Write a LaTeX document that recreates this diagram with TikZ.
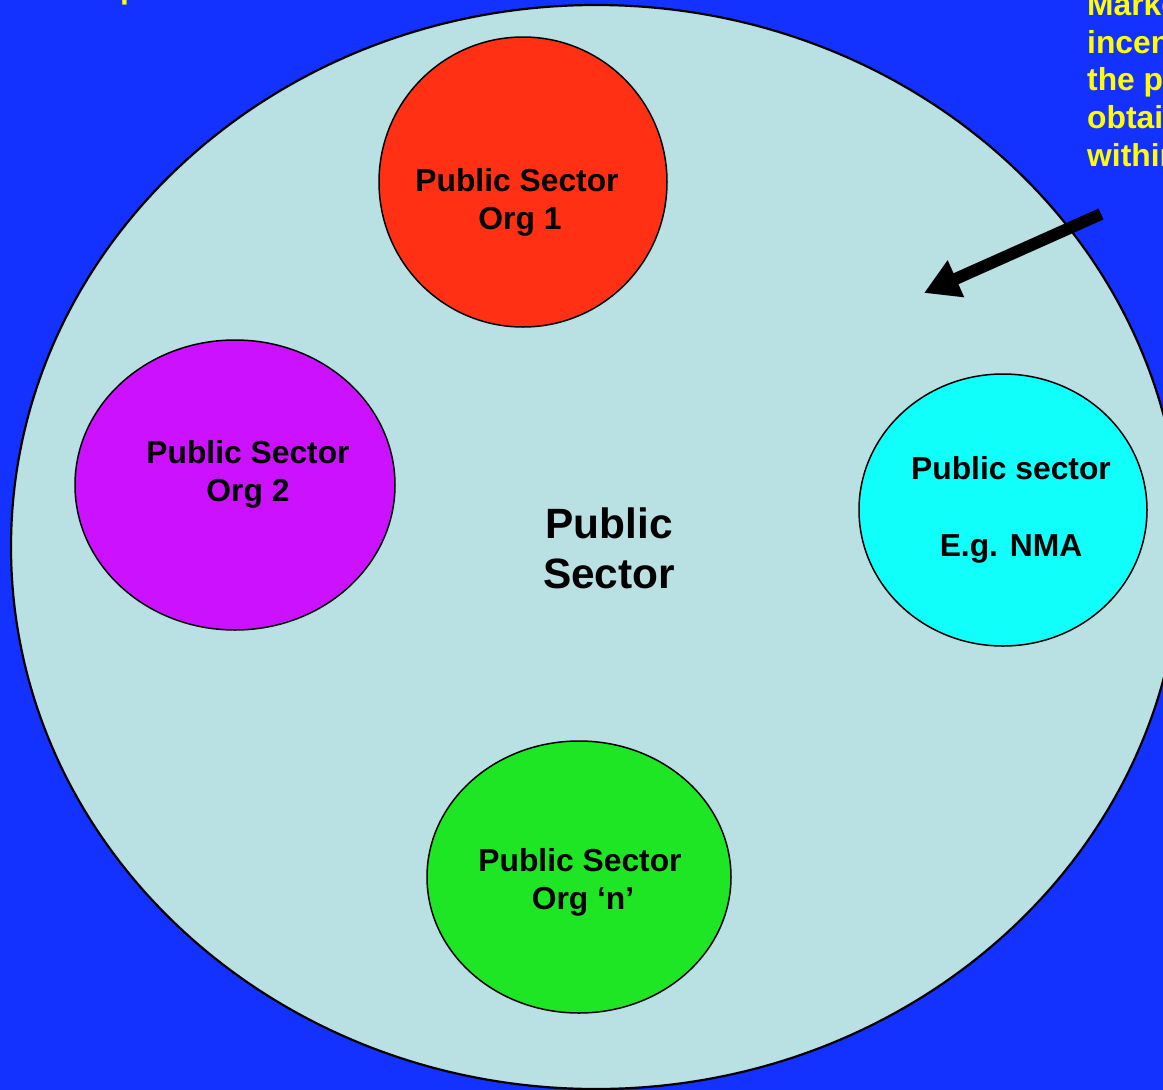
\documentclass[tikz,border=0pt]{standalone}
\usepackage{fontspec}
\setmainfont{Liberation Sans}
\usetikzlibrary{arrows.meta}
\definecolor{bgblue}{RGB}{20,50,255}
\definecolor{lightsea}{RGB}{185,224,226}
\definecolor{orgred}{RGB}{255,48,20}
\definecolor{orgpurple}{RGB}{204,17,255}
\definecolor{orgcyan}{RGB}{17,255,250}
\definecolor{orggreen}{RGB}{30,230,36}
\definecolor{noteyellow}{RGB}{255,255,0}
\begin{document}
\begin{tikzpicture}[x=1pt,y=-1pt,
  orgshape/.style={draw=black,line width=1.5pt},
  lbl/.style={anchor=base,inner sep=0pt,font=\bfseries\fontsize{31.8}{37}\selectfont},
  biglbl/.style={anchor=base,inner sep=0pt,font=\bfseries\fontsize{42.4}{50}\selectfont},
  note/.style={anchor=base west,inner sep=0pt,text=noteyellow,font=\bfseries\fontsize{31.8}{37}\selectfont},
  bigarrow/.style={line width=12pt,-{Triangle[length=35pt,width=38pt]}}]
\useasboundingbox (0,0) rectangle (1163,1090);
\fill[bgblue] (0,0) rectangle (1163,1090);
% outer public sector
\draw[fill=lightsea,line width=2.2pt] (596,547) ellipse [x radius=585,y radius=542];
% organisations
\draw[orgshape,fill=orgred] (523,182) ellipse [x radius=144,y radius=145];
\draw[orgshape,fill=orgpurple] (235,485) ellipse [x radius=160,y radius=145];
\draw[orgshape,fill=orgcyan] (1003,510) ellipse [x radius=144,y radius=136];
\draw[orgshape,fill=orggreen] (579,877) ellipse [x radius=152,y radius=136];
% labels
\node[lbl] (o1a) at (517,191) {Public Sector};
\node[lbl] (o1b) at (520,229) {Org 1};
\node[lbl] (o2a) at (248,463) {Public Sector};
\node[lbl] (o2b) at (248,501) {Org 2};
\node[lbl] (nmaa) at (1011,479) {Public sector};
\node[lbl] (nmab) at (1011,556) {E.g. NMA};
\node[lbl] (ona) at (580,871) {Public Sector};
\node[lbl] (onb) at (583,909) {Org ‘n’};
\node[biglbl] (psa) at (609,538) {Public};
\node[biglbl] (psb) at (609,588) {Sector};
% yellow note text (cut by the page edge)
\node[note] (n1) at (1087,15) {Marke};
\node[note] (n2) at (1087,53) {incen};
\node[note] (n3) at (1087,90) {the p};
\node[note] (n4) at (1087,128) {obtai};
\node[note] (n5) at (1087,166) {within};
\node[note] (n0) at (120,-2) {p};
% arrow
\coordinate (atail) at (1101,214);
\coordinate (atip) at (924,293);
\draw[bigarrow] (atail) -- (atip);
\end{tikzpicture}
\end{document}
